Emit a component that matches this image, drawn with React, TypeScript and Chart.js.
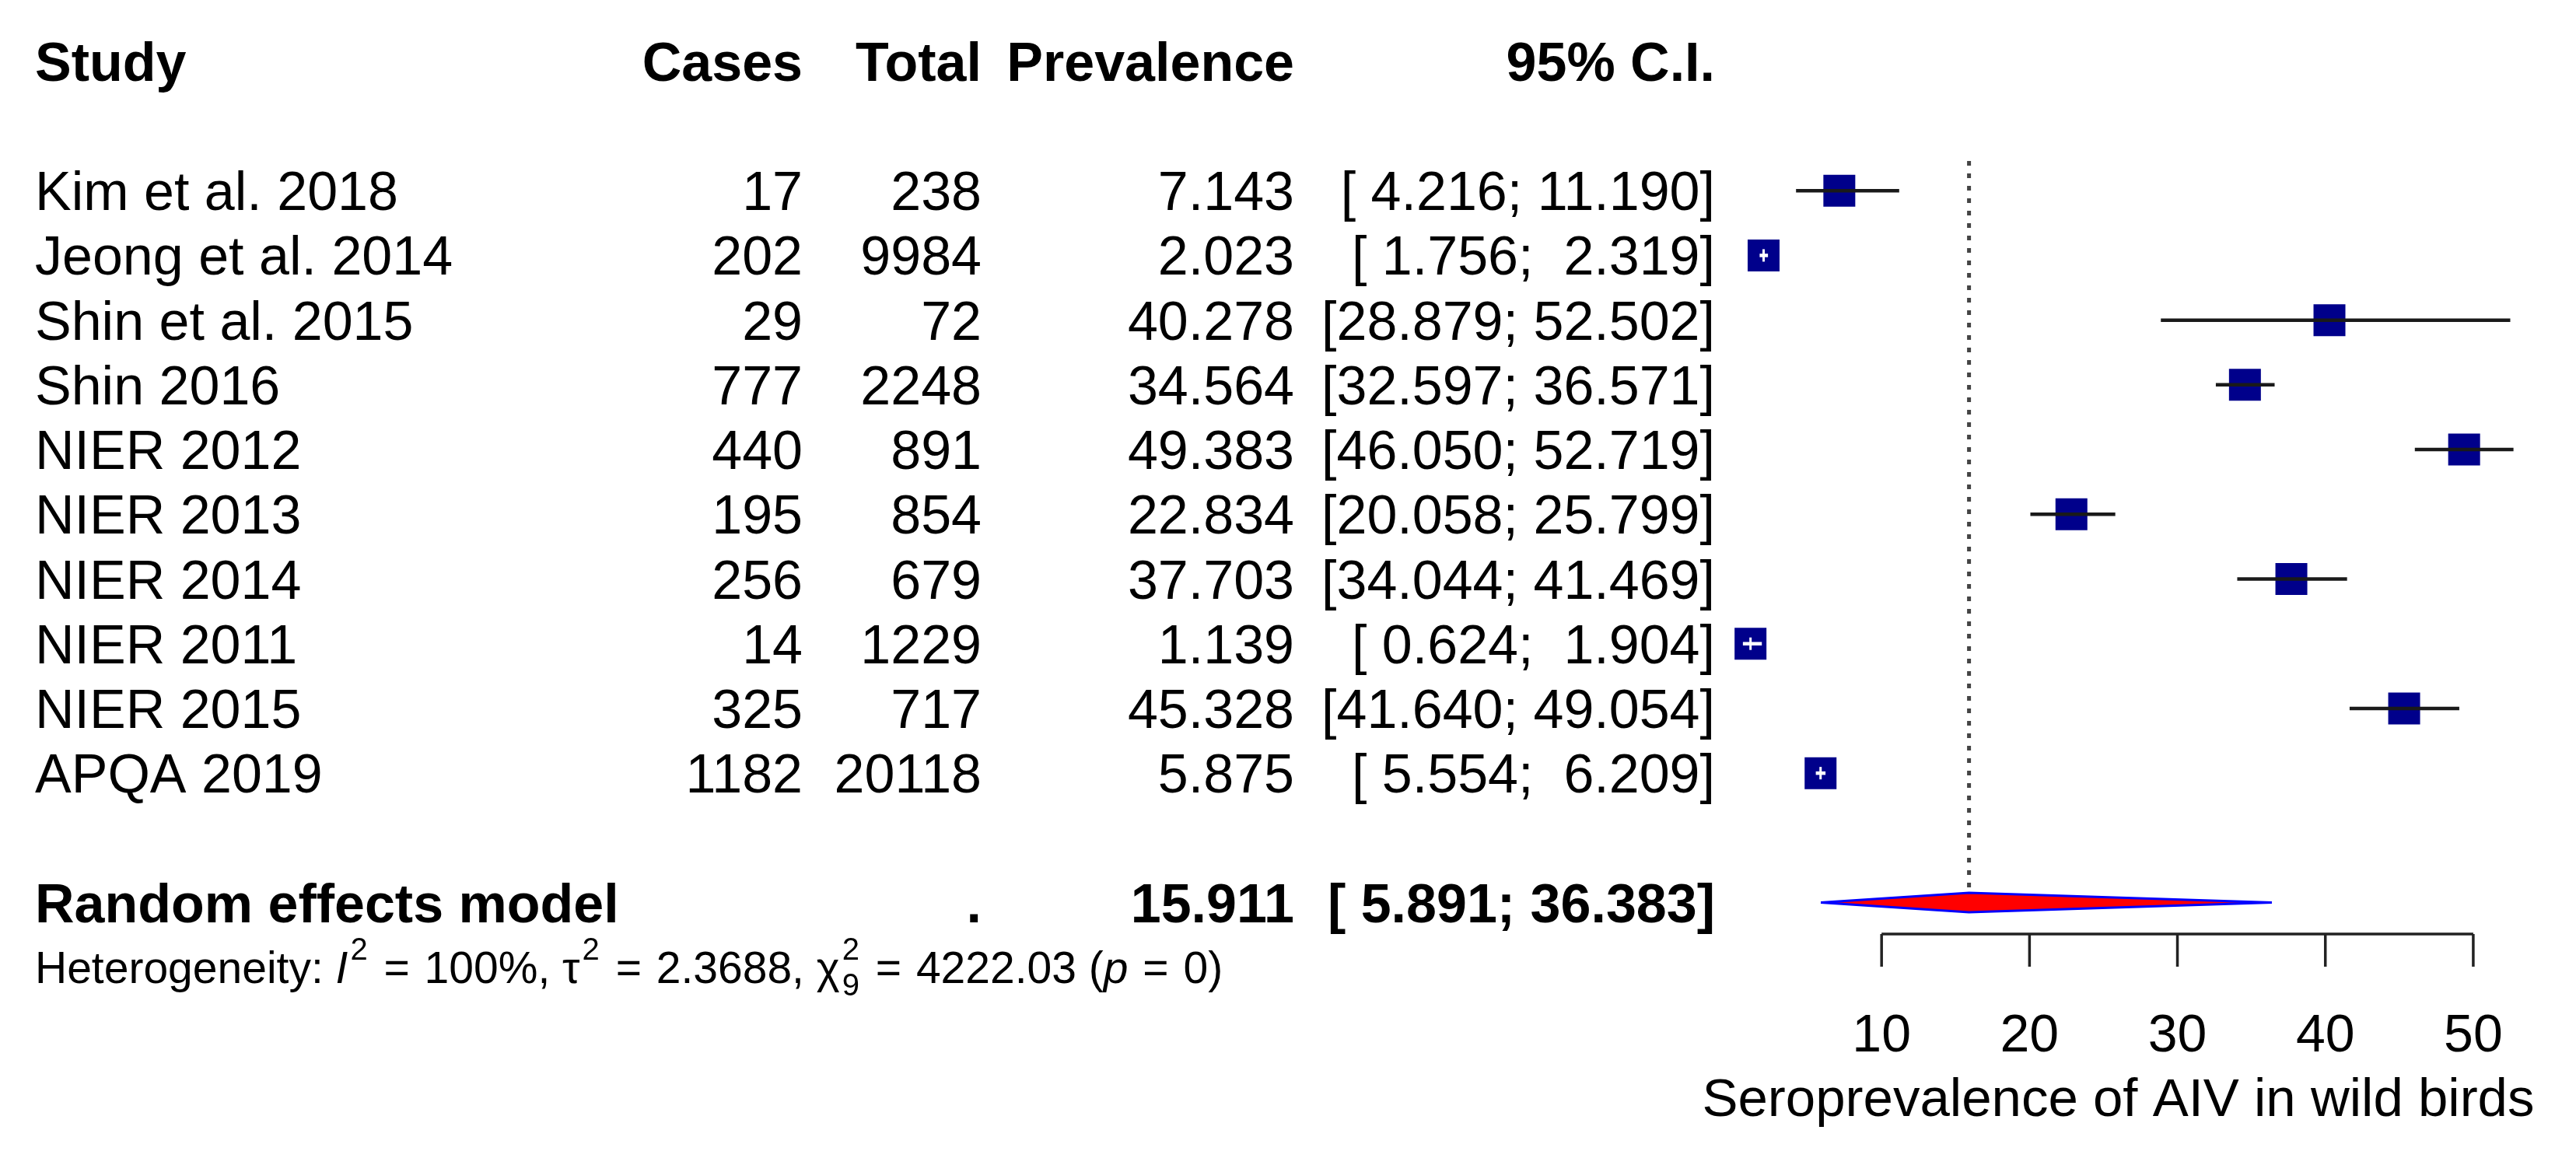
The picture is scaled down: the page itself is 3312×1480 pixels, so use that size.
import { useEffect, useRef } from 'react';
import { Chart, registerables } from 'chart.js';

Chart.register(...registerables);

// ---------- data ----------
const studies = [
  'Kim et al. 2018',
  'Jeong et al. 2014',
  'Shin et al. 2015',
  'Shin 2016',
  'NIER 2012',
  'NIER 2013',
  'NIER 2014',
  'NIER 2011',
  'NIER 2015',
  'APQA 2019',
];
const cases = [17, 202, 29, 777, 440, 195, 256, 14, 325, 1182];
const totals = [238, 9984, 72, 2248, 891, 854, 679, 1229, 717, 20118];
const prevalence = [7.143, 2.023, 40.278, 34.564, 49.383, 22.834, 37.703, 1.139, 45.328, 5.875];
const ciLower = [4.216, 1.756, 28.879, 32.597, 46.05, 20.058, 34.044, 0.624, 41.64, 5.554];
const ciUpper = [11.19, 2.319, 52.502, 36.571, 52.719, 25.799, 41.469, 1.904, 49.054, 6.209];

const pooledLabel = 'Random effects model';
const pooledTotalText = '.';
const pooledPrevalence = 15.911;
const pooledLower = 5.891;
const pooledUpper = 36.383;

const columnHeaders = ['Study', 'Cases', 'Total', 'Prevalence', '95% C.I.'];
const xTicks = [10, 20, 30, 40, 50];
const xAxisTitle = 'Seroprevalence of AIV in wild birds';

type HetPart = { kind: 'text' | 'eq' | 'sup'; t?: string; italic?: boolean; sub?: string };
const heterogeneityParts: HetPart[] = [
  { kind: 'text', t: 'Heterogeneity: ' },
  { kind: 'text', t: 'I', italic: true },
  { kind: 'sup', t: '2' },
  { kind: 'eq' },
  { kind: 'text', t: '100%, ' },
  { kind: 'text', t: 'τ' },
  { kind: 'sup', t: '2' },
  { kind: 'eq' },
  { kind: 'text', t: '2.3688, ' },
  { kind: 'text', t: 'χ' },
  { kind: 'sup', t: '2', sub: '9' },
  { kind: 'eq' },
  { kind: 'text', t: '4222.03 (' },
  { kind: 'text', t: 'p', italic: true },
  { kind: 'eq' },
  { kind: 'text', t: '0)' },
];

// ---------- layout / style ----------
const CANVAS_W = 3312;
const CANVAS_H = 1480;
const FONT = '"Liberation Sans", Arial, Helvetica, sans-serif';
const TEXT_SIZE = 70;
const TICK_SIZE = 68;
const TITLE_SIZE = 69;
const HET_SIZE = 57;
const SQUARE_SIDE = 41;
const DIAMOND_HALF = 0.15; // in row units
const HEADER_ROW = -1;
const POOLED_ROW = 12;
const HET_ROW = 13;
const AXIS_ROW = 12.487;
const REF_TOP_ROW = 0.54;
const TITLE_CENTER_VALUE = 26;
const COL_STUDY = 45;
const COL_CASES = 1032;
const COL_TOTAL = 1262;
const COL_PREV = 1664;
const COL_CI = 2205;
const EQ_GAP = 3;

const fmt3 = (v: number) => v.toFixed(3);
const pad6 = (s: string) => s.padStart(6, ' ');
const ciText = (lo: number, hi: number) => `[${pad6(fmt3(lo))}; ${pad6(fmt3(hi))}]`;

export default function App() {
  const ref = useRef<HTMLCanvasElement | null>(null);

  useEffect(() => {
    document.body.style.margin = '0';
    document.body.style.background = '#ffffff';
    const canvas = ref.current;
    if (!canvas) return;

    const rowOf = (i: number) => i + 1;
    const ciWidthPx = (ctx: any, i: number) => {
      const xs = ctx.chart.scales.x;
      return xs.getPixelForValue(ciUpper[i]) - xs.getPixelForValue(ciLower[i]);
    };

    const ciDatasets = studies.map((_, i) => ({
      type: 'line' as const,
      data: [
        { x: ciLower[i], y: rowOf(i) },
        { x: ciUpper[i], y: rowOf(i) },
      ],
      borderColor: (ctx: any) => (ciWidthPx(ctx, i) < SQUARE_SIDE - 4 ? '#ffffff' : '#1a1a1a'),
      borderWidth: 4.5,
      pointRadius: 0,
      tension: 0,
      fill: false,
      order: 2,
    }));

    const squares = {
      type: 'scatter' as const,
      data: prevalence.map((p, i) => ({ x: p, y: rowOf(i) })),
      pointStyle: 'rect',
      pointRadius: SQUARE_SIDE / Math.SQRT2,
      pointHoverRadius: SQUARE_SIDE / Math.SQRT2,
      backgroundColor: '#00008B',
      borderColor: '#00008B',
      pointBorderWidth: 0,
      borderWidth: 0,
      order: 3,
    };

    const insideTicks = {
      type: 'scatter' as const,
      data: prevalence.map((p, i) => ({ x: p, y: rowOf(i) })),
      pointStyle: 'line',
      rotation: 90,
      pointRadius: (ctx: any) => (ciWidthPx(ctx, ctx.dataIndex) < SQUARE_SIDE - 4 ? 8 : 0),
      borderColor: '#ffffff',
      pointBorderWidth: 3,
      borderWidth: 3,
      order: 1,
    };

    const diamond = {
      type: 'line' as const,
      data: [
        { x: pooledLower, y: POOLED_ROW },
        { x: pooledPrevalence, y: POOLED_ROW - DIAMOND_HALF },
        { x: pooledUpper, y: POOLED_ROW },
        { x: pooledPrevalence, y: POOLED_ROW + DIAMOND_HALF },
        { x: pooledLower, y: POOLED_ROW },
      ],
      borderColor: '#0000FF',
      backgroundColor: '#FF0000',
      borderWidth: 3,
      pointRadius: 0,
      tension: 0,
      fill: 'shape',
      order: 4,
    };

    const refLine = {
      type: 'line' as const,
      data: [
        { x: pooledPrevalence, y: REF_TOP_ROW },
        { x: pooledPrevalence, y: POOLED_ROW - DIAMOND_HALF },
      ],
      borderColor: '#444444',
      borderWidth: 5,
      borderDash: [6, 10],
      pointRadius: 0,
      fill: false,
      order: 5,
    };

    const tablePlugin = {
      id: 'forestTable',
      afterDraw(chart: any) {
        const ctx: CanvasRenderingContext2D = chart.ctx;
        const ys = chart.scales.y;
        const xs = chart.scales.x;
        const base = (row: number) => ys.getPixelForValue(row) + 25;
        ctx.save();
        ctx.fillStyle = '#000000';
        ctx.textBaseline = 'alphabetic';

        // headers
        ctx.font = `bold ${TEXT_SIZE}px ${FONT}`;
        const hy = base(HEADER_ROW);
        ctx.textAlign = 'left';
        ctx.fillText(columnHeaders[0], COL_STUDY, hy);
        ctx.textAlign = 'right';
        ctx.fillText(columnHeaders[1], COL_CASES, hy);
        ctx.fillText(columnHeaders[2], COL_TOTAL, hy);
        ctx.fillText(columnHeaders[3], COL_PREV, hy);
        ctx.fillText(columnHeaders[4], COL_CI, hy);

        // study rows
        ctx.font = `${TEXT_SIZE}px ${FONT}`;
        studies.forEach((s, i) => {
          const y = base(rowOf(i));
          ctx.textAlign = 'left';
          ctx.fillText(s, COL_STUDY, y);
          ctx.textAlign = 'right';
          ctx.fillText(String(cases[i]), COL_CASES, y);
          ctx.fillText(String(totals[i]), COL_TOTAL, y);
          ctx.fillText(fmt3(prevalence[i]), COL_PREV, y);
          ctx.fillText(ciText(ciLower[i], ciUpper[i]), COL_CI, y);
        });

        // pooled row
        ctx.font = `bold ${TEXT_SIZE}px ${FONT}`;
        const py = base(POOLED_ROW);
        ctx.textAlign = 'left';
        ctx.fillText(pooledLabel, COL_STUDY, py);
        ctx.textAlign = 'right';
        ctx.fillText(pooledTotalText, COL_TOTAL, py);
        ctx.fillText(fmt3(pooledPrevalence), COL_PREV, py);
        ctx.fillText(ciText(pooledLower, pooledUpper), COL_CI, py);

        // heterogeneity line
        const hetY = ys.getPixelForValue(HET_ROW) + 20;
        const norm = `${HET_SIZE}px ${FONT}`;
        const ital = `italic ${HET_SIZE}px ${FONT}`;
        const small = `${Math.round(HET_SIZE * 0.7)}px ${FONT}`;
        ctx.textAlign = 'left';
        let x = COL_STUDY;
        for (const p of heterogeneityParts) {
          if (p.kind === 'text') {
            ctx.font = p.italic ? ital : norm;
            ctx.fillText(p.t as string, x, hetY);
            x += ctx.measureText(p.t as string).width;
          } else if (p.kind === 'eq') {
            ctx.font = norm;
            const sp = ctx.measureText(' ').width + EQ_GAP;
            x += sp;
            ctx.fillText('=', x, hetY);
            x += ctx.measureText('=').width + sp;
          } else {
            ctx.font = small;
            ctx.fillText(p.t as string, x + 3, hetY - 30);
            let w = ctx.measureText(p.t as string).width;
            if (p.sub) {
              ctx.fillText(p.sub, x + 3, hetY + 16);
              w = Math.max(w, ctx.measureText(p.sub).width);
            }
            x += w + 5;
          }
        }

        // x axis (R style: line spans first to last tick)
        const ay = ys.getPixelForValue(AXIS_ROW);
        ctx.strokeStyle = '#222222';
        ctx.lineWidth = 3.5;
        ctx.beginPath();
        ctx.moveTo(xs.getPixelForValue(xTicks[0]), ay);
        ctx.lineTo(xs.getPixelForValue(xTicks[xTicks.length - 1]), ay);
        xTicks.forEach((t) => {
          const px = xs.getPixelForValue(t);
          ctx.moveTo(px, ay);
          ctx.lineTo(px, ay + 42);
        });
        ctx.stroke();

        ctx.fillStyle = '#000000';
        ctx.font = `${TICK_SIZE}px ${FONT}`;
        ctx.textAlign = 'center';
        xTicks.forEach((t) => {
          ctx.fillText(String(t), xs.getPixelForValue(t), ay + 151);
        });
        ctx.font = `${TITLE_SIZE}px ${FONT}`;
        ctx.fillText(xAxisTitle, xs.getPixelForValue(TITLE_CENTER_VALUE), ay + 234);
        ctx.restore();
      },
    };

    const chart = new Chart(canvas, {
      type: 'scatter',
      data: {
        datasets: [insideTicks, ...ciDatasets, squares, diamond, refLine] as any,
      },
      options: {
        responsive: false,
        maintainAspectRatio: false,
        devicePixelRatio: 1,
        animation: false,
        events: [],
        layout: { padding: { left: 2229, right: 37, top: 162, bottom: 153 } },
        plugins: {
          legend: { display: false },
          tooltip: { enabled: false },
          title: { display: false },
        },
        scales: {
          x: { type: 'linear', min: 0, max: 55, display: false },
          y: { type: 'linear', min: 0, max: 14, reverse: true, display: false },
        },
      },
      plugins: [tablePlugin],
    } as any);

    return () => {
      chart.destroy();
    };
  }, []);

  return (
    <canvas
      ref={ref}
      width={CANVAS_W}
      height={CANVAS_H}
      style={{ display: 'block', width: CANVAS_W, height: CANVAS_H, background: '#ffffff' }}
    />
  );
}
